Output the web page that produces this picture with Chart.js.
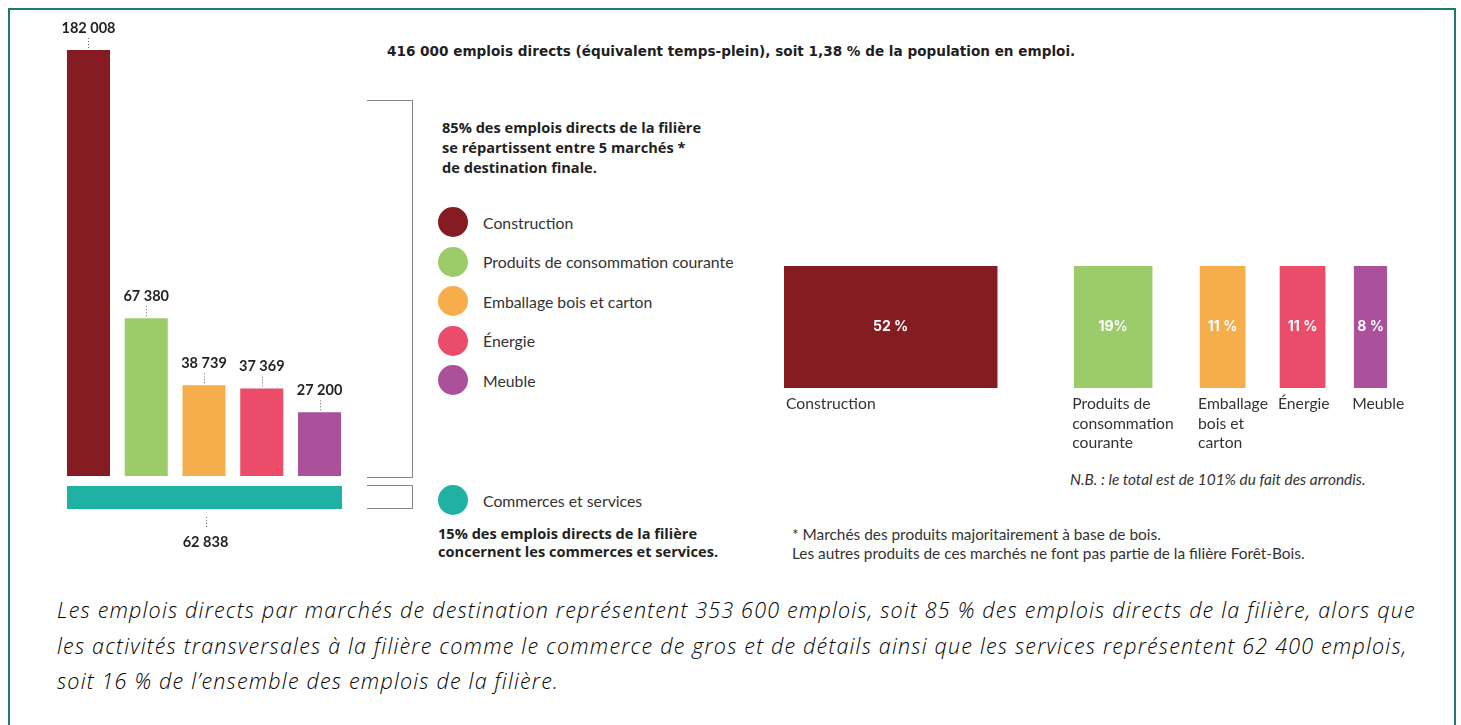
<!DOCTYPE html>
<html lang="fr">
<head>
<meta charset="utf-8">
<script src="https://cdn.jsdelivr.net/npm/chart.js@4.4.1/dist/chart.umd.min.js"></script>
<style>
  html, body { margin: 0; padding: 0; background: #fff; overflow: hidden; }
  body { width: 1461px; height: 725px; position: relative; font-family: Lato, "Open Sans", sans-serif; color: #231f20; }
  .frame { position: absolute; left: 8px; top: 8px; width: 1448px; height: 780px; border: 2px solid #1f7a6c; box-sizing: border-box; }
  .abs { position: absolute; white-space: nowrap; }
  .bracket { position: absolute; border: 1.5px solid #858585; border-left: none; box-sizing: border-box; }
  .title { left: 387px; top: 43px; font: 700 13.6px "DejaVu Sans", sans-serif; color: #1f1f1f; }
  .head { left: 442px; top: 117px; font: 700 14.6px "Open Sans", sans-serif; line-height: 20px; }
  .head2 { left: 438px; top: 524px; font: 700 14.6px "Open Sans", sans-serif; line-height: 18px; }
  .legend-row { position: absolute; left: 438px; height: 30px; display: flex; align-items: center; font: 400 15.8px Lato, sans-serif; color: #333; }
  .legend-row span.dot { width: 30px; height: 30px; border-radius: 50%; margin-right: 15px; }
  .note { left: 792px; top: 525px; font: 400 15.4px Lato, sans-serif; line-height: 19px; color: #333; }
  .nb { left: 1070px; top: 470px; font: italic 400 15.4px Lato, sans-serif; color: #333; }
  .para { left: 57px; top: 592px; font: italic 300 21.5px "Open Sans", sans-serif; line-height: 35.5px; color: #000; letter-spacing: 1.2px; }
  .box { position: absolute; }
</style>
</head>
<body>
<div class="frame"></div>

<div class="box" style="left:40px;top:0px;"><canvas id="barsChart" width="340" height="490"></canvas></div>
<div class="box" style="left:67px;top:486px;"><canvas id="commerceChart" width="275" height="70"></canvas></div>
<div class="box" style="left:784px;top:266px;"><canvas id="shareChart" width="643" height="194"></canvas></div>

<div class="bracket" style="left:367px;top:100px;width:46px;height:378px;"></div>
<div class="bracket" style="left:367px;top:485px;width:46px;height:24px;"></div>

<div class="abs title">416 000 emplois directs (équivalent temps-plein), soit 1,38 % de la population en emploi.</div>
<div class="abs head">85% des emplois directs de la filière<br>se répartissent entre 5 marchés *<br>de destination finale.</div>
<div id="legend"></div>
<div class="abs head2">15% des emplois directs de la filière<br>concernent les commerces et services.</div>
<div class="abs note">* Marchés des produits majoritairement à base de bois.<br>Les autres produits de ces marchés ne font pas partie de la filière Forêt-Bois.</div>
<div class="abs nb">N.B. : le total est de 101% du fait des arrondis.</div>
<div class="abs para">Les emplois directs par marchés de destination représentent 353 600 emplois, soit 85 % des emplois directs de la filière, alors que<br>les activités transversales à la filière comme le commerce de gros et de détails ainsi que les services représentent 62 400 emplois,<br>soit 16 % de l’ensemble des emplois de la filière.</div>

<script>
// Marches de destination
const marches = ["Construction", "Produits de consommation courante", "Emballage bois et carton", "Énergie", "Meuble"];
const emplois = [182008, 67380, 38739, 37369, 27200];
const couleurs = ["#841c22", "#9ccb69", "#f6ae4c", "#ea4c69", "#ab519c"];

// Commerces et services
const commerceLabel = "Commerces et services";
const commerceEmplois = 62838;
const commerceCouleur = "#20b1a5";

// Repartition en %
const parts = [52, 19, 11, 11, 8];
const partsLabels = ["52 %", "19%", "11 %", "11 %", "8 %"];

// espaces entre les blocs de droite (en unites de %)
const ecarts = [18.8, 11.7, 8.5, 7.1];

const fmt = v => String(v).replace(/\B(?=(\d{3})+(?!\d))/g, " ");

// legende
const legend = document.getElementById("legend");
marches.concat([commerceLabel]).forEach((nom, i) => {
  const row = document.createElement("div");
  row.className = "legend-row";
  const top = i < marches.length ? 207 + i * 39.5 : 485;
  row.style.top = top + "px";
  row.innerHTML = '<span class="dot" style="background:' + (couleurs[i] || commerceCouleur) + '"></span>' + nom;
  legend.appendChild(row);
});

function leader(ctx, x, y1, y2) {
  ctx.save();
  ctx.strokeStyle = "#666";
  ctx.lineWidth = 1;
  ctx.setLineDash([1, 2]);
  ctx.beginPath();
  ctx.moveTo(Math.round(x) + 0.5, y1);
  ctx.lineTo(Math.round(x) + 0.5, y2);
  ctx.stroke();
  ctx.restore();
}

// etiquettes des barres verticales
const valeursPlugin = {
  id: "valeurs",
  afterDatasetsDraw(chart) {
    const { ctx } = chart;
    chart.getDatasetMeta(0).data.forEach((bar, i) => {
      leader(ctx, bar.x, bar.y - 2, bar.y - 12);
      ctx.save();
      ctx.fillStyle = "#231f20";
      ctx.font = "700 14.5px Lato, sans-serif";
      ctx.textAlign = "center";
      ctx.textBaseline = "middle";
      ctx.fillText(fmt(emplois[i]), bar.x, bar.y - 22);
      ctx.restore();
    });
  }
};

new Chart(document.getElementById("barsChart"), {
  type: "bar",
  data: {
    labels: marches,
    datasets: [{ data: emplois, backgroundColor: couleurs, barPercentage: 0.745, categoryPercentage: 1 }]
  },
  options: {
    responsive: false,
    animation: false,
    layout: { padding: { left: 19.6, right: 31.6, top: 50, bottom: 14 } },
    scales: {
      x: { display: false },
      y: { display: false, min: 0, max: Math.max(...emplois) }
    },
    plugins: { legend: { display: false }, tooltip: { enabled: false } }
  },
  plugins: [valeursPlugin]
});

// barre horizontale commerces et services
const commercePlugin = {
  id: "commerce",
  afterDatasetsDraw(chart) {
    const { ctx, chartArea } = chart;
    const x = (chartArea.left + chartArea.right) / 2;
    leader(ctx, x + 1, chartArea.bottom + 8, chartArea.bottom + 18);
    ctx.save();
    ctx.fillStyle = "#231f20";
    ctx.font = "700 14.5px Lato, sans-serif";
    ctx.textAlign = "center";
    ctx.textBaseline = "middle";
    ctx.fillText(fmt(commerceEmplois), x + 1, chartArea.bottom + 33);
    ctx.restore();
  }
};

new Chart(document.getElementById("commerceChart"), {
  type: "bar",
  data: {
    labels: [commerceLabel],
    datasets: [{ data: [commerceEmplois], backgroundColor: commerceCouleur, barPercentage: 1, categoryPercentage: 1 }]
  },
  options: {
    indexAxis: "y",
    responsive: false,
    animation: false,
    layout: { padding: { bottom: 47 } },
    scales: {
      x: { display: false, min: 0, max: commerceEmplois },
      y: { display: false }
    },
    plugins: { legend: { display: false }, tooltip: { enabled: false } }
  },
  plugins: [commercePlugin]
});

// blocs proportionnels a droite
let pos = 0;
const debuts = parts.map((p, i) => {
  const d = pos;
  pos += p + (ecarts[i] || 0);
  return d;
});

function wrap(ctx, text, maxW) {
  const mots = text.split(" ");
  const lignes = [];
  let cur = "";
  mots.forEach(m => {
    const test = cur ? cur + " " + m : m;
    if (cur && ctx.measureText(test).width > maxW) {
      lignes.push(cur);
      cur = m;
    } else {
      cur = test;
    }
  });
  lignes.push(cur);
  return lignes;
}

const partsPlugin = {
  id: "parts",
  afterDatasetsDraw(chart) {
    const { ctx, chartArea } = chart;
    const bars = chart.data.datasets.map((d, i) => chart.getDatasetMeta(i).data[0]);
    bars.forEach((bar, i) => {
      const left = Math.min(bar.x, bar.base);
      const right = Math.max(bar.x, bar.base);
      ctx.save();
      ctx.fillStyle = "#fff";
      ctx.font = "700 14px Inter, sans-serif";
      ctx.textAlign = "center";
      ctx.textBaseline = "middle";
      ctx.fillText(partsLabels[i], (left + right) / 2, bar.y);

      ctx.fillStyle = "#333";
      ctx.font = "400 15.7px Lato, sans-serif";
      ctx.textAlign = "left";
      const next = bars[i + 1] ? Math.min(bars[i + 1].x, bars[i + 1].base) : chart.width;
      const maxW = next - left - 4;
      wrap(ctx, marches[i], maxW).forEach((l, k) => {
        ctx.fillText(l, left + (i === 0 ? 2 : -2), chartArea.bottom + 16 + k * 19.5);
      });
      ctx.restore();
    });
  }
};

new Chart(document.getElementById("shareChart"), {
  type: "bar",
  data: {
    labels: [""],
    datasets: parts.map((p, i) => ({
      label: marches[i],
      data: [[debuts[i], debuts[i] + p]],
      backgroundColor: couleurs[i],
      barPercentage: 1,
      categoryPercentage: 1,
      grouped: false
    }))
  },
  options: {
    indexAxis: "y",
    responsive: false,
    animation: false,
    layout: { padding: { right: 40, bottom: 72 } },
    scales: {
      x: { display: false, min: 0, max: debuts[parts.length - 1] + parts[parts.length - 1] },
      y: { display: false }
    },
    plugins: { legend: { display: false }, tooltip: { enabled: false } }
  },
  plugins: [partsPlugin]
});
</script>
</body>
</html>
